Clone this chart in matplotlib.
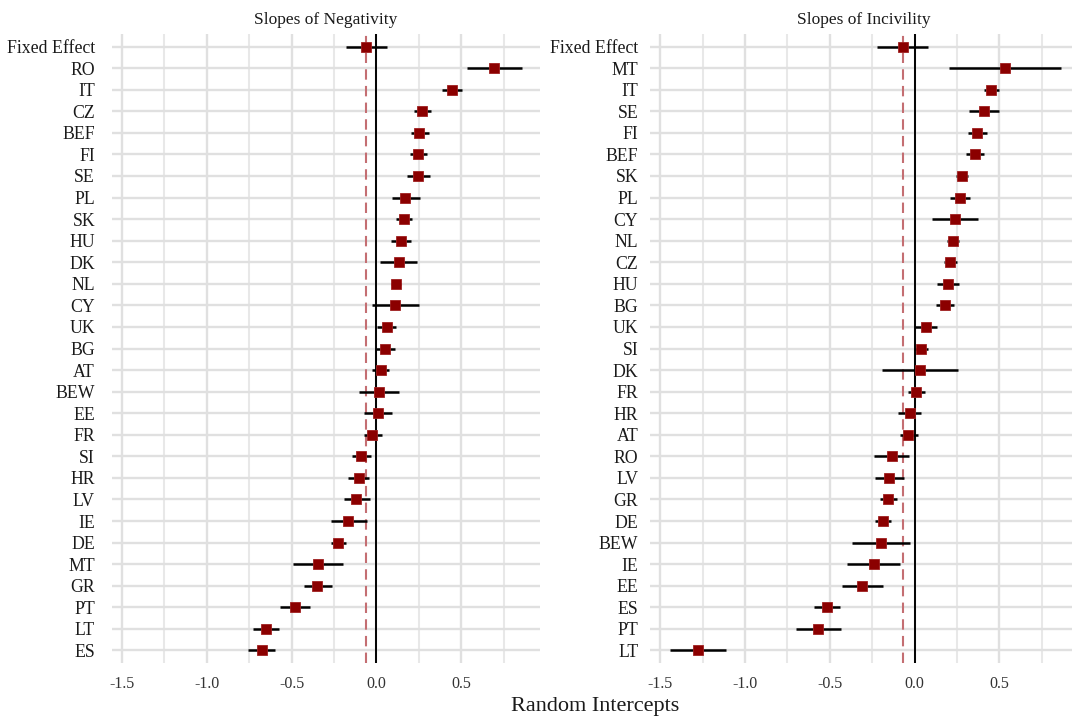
import matplotlib
matplotlib.use("Agg")
import matplotlib.pyplot as plt
import numpy as np

plt.rcParams['font.family'] = ['Liberation Serif', 'DejaVu Serif']

# ---- Data: Slopes of Negativity (top to bottom) ----
neg_labels = ["Fixed Effect", "RO", "IT", "CZ", "BEF", "FI", "SE", "PL", "SK", "HU",
              "DK", "NL", "CY", "UK", "BG", "AT", "BEW", "EE", "FR", "SI",
              "HR", "LV", "IE", "DE", "MT", "GR", "PT", "LT", "ES"]
neg_est = [-0.06, 0.695, 0.445, 0.271, 0.254, 0.248, 0.248, 0.172, 0.164, 0.146,
           0.131, 0.115, 0.113, 0.062, 0.053, 0.025, 0.014, 0.010, -0.023, -0.088,
           -0.104, -0.117, -0.164, -0.223, -0.344, -0.348, -0.481, -0.652, -0.676]
neg_lo = [-0.18, 0.535, 0.387, 0.220, 0.203, 0.200, 0.183, 0.090, 0.115, 0.088,
          0.023, 0.088, -0.024, 0.004, -0.002, -0.024, -0.104, -0.071, -0.071, -0.145,
          -0.166, -0.190, -0.270, -0.270, -0.494, -0.428, -0.570, -0.727, -0.754]
neg_hi = [0.064, 0.859, 0.507, 0.320, 0.310, 0.300, 0.318, 0.258, 0.209, 0.203,
          0.240, 0.144, 0.254, 0.119, 0.111, 0.074, 0.135, 0.092, 0.033, -0.030,
          -0.043, -0.039, -0.057, -0.176, -0.195, -0.264, -0.391, -0.572, -0.596]
neg_fixed = -0.06

# ---- Data: Slopes of Incivility (top to bottom) ----
inc_labels = ["Fixed Effect", "MT", "IT", "SE", "FI", "BEF", "SK", "PL", "CY", "NL",
              "CZ", "HU", "BG", "UK", "SI", "DK", "FR", "HR", "AT", "RO",
              "LV", "GR", "DE", "BEW", "IE", "EE", "ES", "PT", "LT"]
inc_est = [-0.071, 0.535, 0.453, 0.407, 0.370, 0.354, 0.278, 0.268, 0.238, 0.224,
           0.211, 0.197, 0.179, 0.067, 0.035, 0.030, 0.008, -0.030, -0.037, -0.134,
           -0.150, -0.154, -0.187, -0.199, -0.240, -0.309, -0.518, -0.571, -1.278]
inc_lo = [-0.222, 0.205, 0.409, 0.323, 0.317, 0.303, 0.242, 0.207, 0.102, 0.189,
          0.175, 0.134, 0.126, 0.002, -0.006, -0.191, -0.041, -0.100, -0.089, -0.238,
          -0.232, -0.207, -0.232, -0.368, -0.396, -0.427, -0.591, -0.701, -1.441]
inc_hi = [0.077, 0.864, 0.500, 0.496, 0.425, 0.407, 0.317, 0.329, 0.374, 0.262,
          0.248, 0.262, 0.234, 0.134, 0.079, 0.258, 0.061, 0.039, 0.020, -0.033,
          -0.065, -0.102, -0.140, -0.030, -0.085, -0.189, -0.441, -0.435, -1.114]
inc_fixed = -0.071

panel_titles = ["Slopes of Negativity", "Slopes of Incivility"]
x_ticks = [-1.5, -1.0, -0.5, 0.0, 0.5]
x_minor = [-1.25, -0.75, -0.25, 0.25, 0.75]

W, H = 1072, 722
fig = plt.figure(figsize=(W / 100, H / 100), dpi=100)

top_px, bot_px = 33.6, 663.4
ax_bottom = 1 - bot_px / H
ax_height = (bot_px - top_px) / H
panels = [(111.7, 540.0, 12.0), (650.0, 1078.3, 8.5)]

datasets = [(neg_labels, neg_est, neg_lo, neg_hi, neg_fixed),
            (inc_labels, inc_est, inc_lo, inc_hi, inc_fixed)]

for (x0, x1, pad), (labels, est, lo, hi, fixed), title in zip(panels, datasets, panel_titles):
    ax = fig.add_axes([x0 / W, ax_bottom, (x1 - x0) / W, ax_height])
    n = len(labels)
    y = np.arange(n)[::-1]
    ax.set_xlim(-1.56, 0.965)
    ax.set_ylim(-0.6, n - 1 + 0.6)
    for s in ax.spines.values():
        s.set_visible(False)
    ax.set_xticks(x_ticks)
    ax.set_xticks(x_minor, minor=True)
    ax.set_xticklabels([f"{t:.1f}" for t in x_ticks])
    ax.set_yticks(y)
    ax.set_yticklabels(labels)
    ax.tick_params(axis='both', which='both', length=0)
    ax.tick_params(axis='y', labelsize=12.8, pad=pad, colors='#1a1a1a')
    ax.tick_params(axis='x', labelsize=11.5, pad=9, colors='#333333')
    ax.grid(True, which='major', axis='both', color='#E0E0E0', linewidth=1.7, zorder=0)
    ax.grid(True, which='minor', axis='x', color='#E8E8E8', linewidth=1.5, zorder=0)
    ax.set_axisbelow(True)

    ax.axvline(fixed, color='#C46E72', linestyle=(0, (5, 3)), linewidth=1.5, zorder=2)
    ax.axvline(0, color='black', linewidth=1.4, zorder=2)
    ax.hlines(y, lo, hi, color='black', linewidth=1.8, zorder=3)
    ax.plot(est, y, linestyle='none', marker='s', markersize=7.6,
            markerfacecolor='#8B0000', markeredgecolor='#A02020', markeredgewidth=0.6, zorder=4)
    ax.set_title(title, fontsize=12.5, pad=7, color='#1a1a1a')

fig.text((111.7 + 1078.3) / 2 / W, 1 - 707 / H, "Random Intercepts", ha='center', va='center',
         fontsize=16, color='#1a1a1a')

fig.savefig("out.png", dpi=100, facecolor='white')
